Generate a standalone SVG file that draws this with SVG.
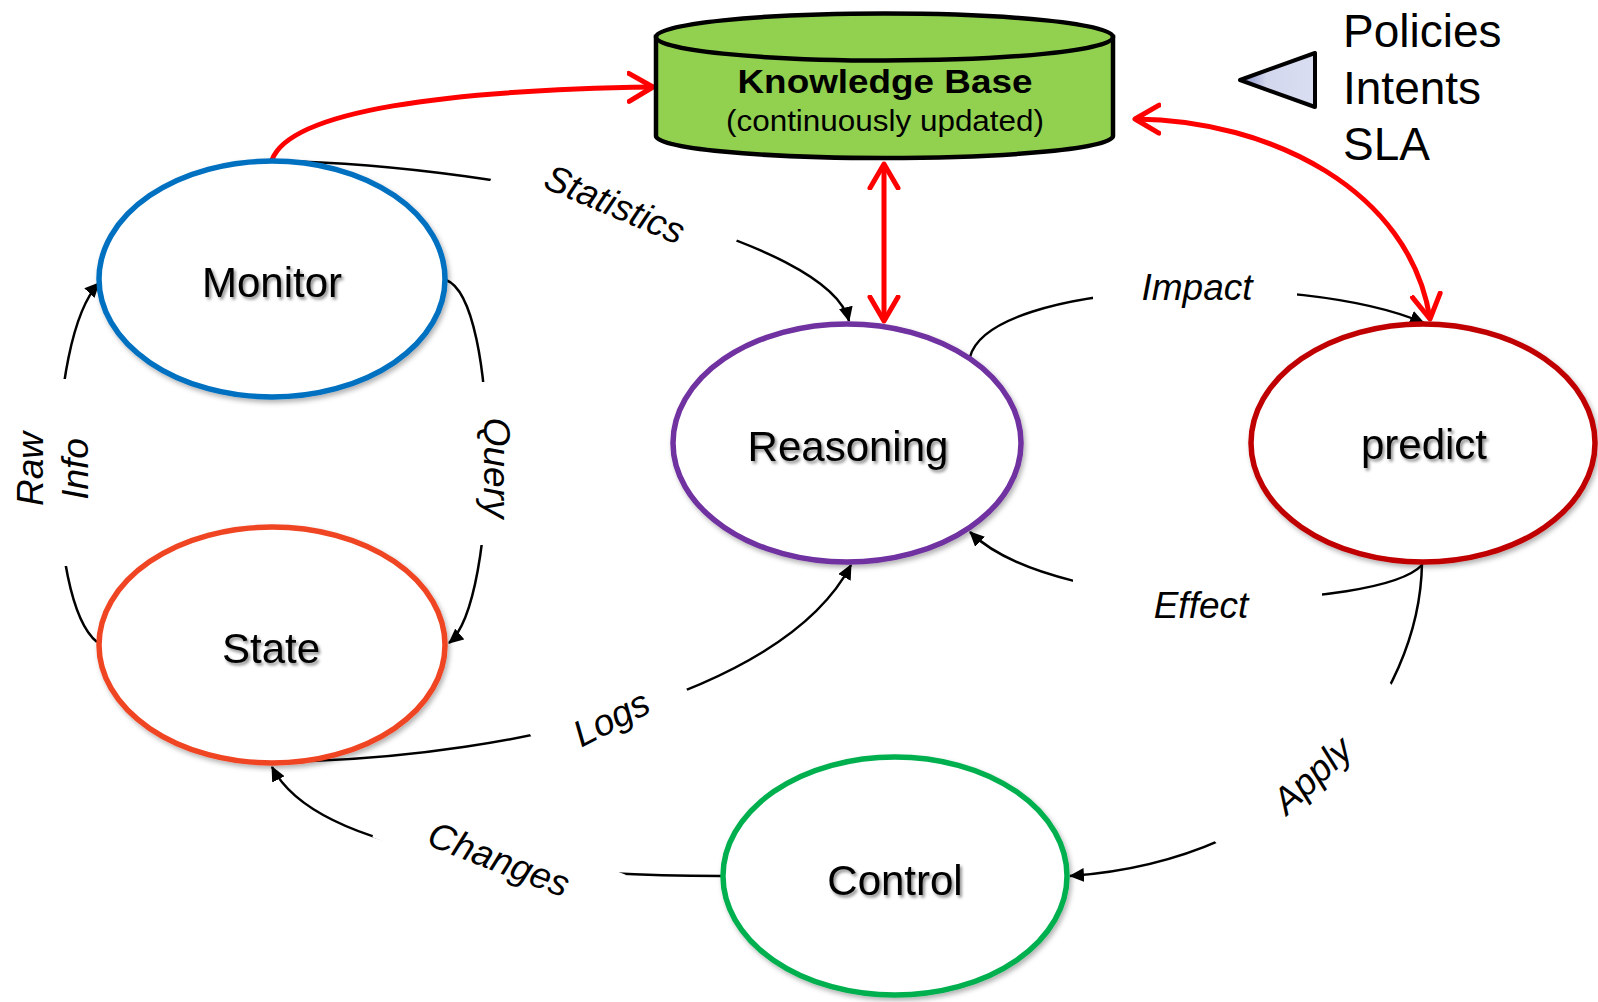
<svg xmlns="http://www.w3.org/2000/svg" width="1598" height="1002" viewBox="0 0 1598 1002">
<style>
.node{fill:#fff;stroke-width:5.5}
.nt{font-family:"Liberation Sans",Arial,sans-serif;font-size:42px;fill:#000;text-anchor:middle}
.lbl{font-family:"Liberation Sans",Arial,sans-serif;font-size:37px;font-style:italic;fill:#000;text-anchor:middle}
.c{fill:none;stroke:#000;stroke-width:2.5}
.r{fill:none;stroke:#ff0000;stroke-width:5}
.gap{fill:#fff}
</style>
<defs>
<filter id="ts" x="-20%" y="-40%" width="140%" height="180%">
<feDropShadow dx="2" dy="2.5" stdDeviation="1.5" flood-color="#000" flood-opacity="0.45"/>
</filter>
<filter id="es" x="-10%" y="-10%" width="125%" height="125%">
<feDropShadow dx="2" dy="3" stdDeviation="2.5" flood-color="#000" flood-opacity="0.3"/>
</filter>
<marker id="ah" markerUnits="userSpaceOnUse" markerWidth="16" markerHeight="14" refX="14" refY="7" orient="auto">
<path d="M0,0 L15,7 L0,14 Z" fill="#000"/>
</marker>
<marker id="rh" markerUnits="userSpaceOnUse" markerWidth="30" markerHeight="34" refX="26" refY="17" orient="auto-start-reverse">
<path d="M2,3 L26,17 L2,31" fill="none" stroke="#ff0000" stroke-width="5" stroke-linecap="round" stroke-linejoin="round"/>
</marker>
<linearGradient id="tg" x1="0" y1="0" x2="1" y2="0">
<stop offset="0" stop-color="#7f8cc8"/>
<stop offset="0.35" stop-color="#d3d7ee"/>
<stop offset="1" stop-color="#dadef1"/>
</linearGradient>
</defs>

<g id="connectors">
<path class="c" d="M275,161 C520,165 830,240 849,321" marker-end="url(#ah)"/>
<path class="c" d="M97,642 C45,600 45,340 99,283" marker-end="url(#ah)"/>
<path class="c" d="M446,280 C500,300 500,600 449,643" marker-end="url(#ah)"/>
<path class="c" d="M311,761 C500,755 780,700 851,565" marker-end="url(#ah)"/>
<path class="c" d="M721,876 C560,876 320,860 272,767" marker-end="url(#ah)"/>
<path class="c" d="M1422,563 C1420,700 1300,860 1070,876" marker-end="url(#ah)"/>
<path class="c" d="M1422,565 C1380,610 1060,620 970,532" marker-end="url(#ah)"/>
<path class="c" d="M970,357 C990,280 1300,270 1424,323" marker-end="url(#ah)"/>

<rect class="gap" x="-125" y="-30" width="250" height="60" transform="translate(615,207) rotate(23)"/>
<rect class="gap" x="5" y="379" width="93" height="187"/>
<rect class="gap" x="465" y="382" width="60" height="163"/>
<rect class="gap" x="-80" y="-28" width="160" height="56" transform="translate(611,717) rotate(-27)"/>
<rect class="gap" x="-125" y="-28" width="250" height="56" transform="translate(499,856) rotate(21)"/>
<rect class="gap" x="-118" y="-30" width="236" height="60" transform="translate(1305,765) rotate(-43)"/>
<rect class="gap" x="1073" y="575" width="249" height="50"/>
<rect class="gap" x="1093" y="262" width="204" height="50"/>

<text class="lbl" transform="translate(615,204) rotate(23)" y="13">Statistics</text>
<text class="lbl" transform="translate(30,469) rotate(-90)" y="13">Raw</text>
<text class="lbl" transform="translate(75,469) rotate(-90)" y="13">Info</text>
<text class="lbl" transform="translate(497,468) rotate(90)" y="13">Query</text>
<text class="lbl" transform="translate(611,718) rotate(-27)" y="13">Logs</text>
<text class="lbl" transform="translate(499,859) rotate(21)" y="13">Changes</text>
<text class="lbl" transform="translate(1312,775) rotate(-43)" y="13">Apply</text>
<text class="lbl" x="1201" y="618">Effect</text>
<text class="lbl" x="1197" y="300">Impact</text>

<path class="r" d="M272,160 C290,110 450,90 653,87" marker-end="url(#rh)"/>
<path class="r" d="M884,164 L884,321" marker-start="url(#rh)" marker-end="url(#rh)"/>
<path class="r" d="M1135,119 C1270,120 1410,190 1430,319" marker-start="url(#rh)" marker-end="url(#rh)"/>
</g>

<g id="kb">
<path d="M656,37 V136 A228.5,22 0 0 0 1113,136 V37 Z" fill="#92d050" stroke="#000" stroke-width="4.5"/>
<ellipse cx="884.5" cy="37" rx="228.5" ry="23.5" fill="#92d050" stroke="#000" stroke-width="4.5"/>
<text x="885" y="93" font-family="'Liberation Sans',Arial,sans-serif" font-size="34" font-weight="bold" text-anchor="middle" textLength="295" lengthAdjust="spacingAndGlyphs">Knowledge Base</text>
<text x="885" y="131" font-family="'Liberation Sans',Arial,sans-serif" font-size="30" text-anchor="middle" textLength="318" lengthAdjust="spacingAndGlyphs">(continuously updated)</text>
</g>

<g id="policies">
<path d="M1240,80 L1315,53 L1315,107 Z" fill="url(#tg)" stroke="#000" stroke-width="4" stroke-linejoin="round"/>
<text font-family="'Liberation Sans',Arial,sans-serif" font-size="46" fill="#000">
<tspan x="1343" y="47">Policies</tspan>
<tspan x="1343" y="104">Intents</tspan>
<tspan x="1343" y="160">SLA</tspan>
</text>
</g>

<g id="monitor">
<ellipse class="node" cx="272" cy="279" rx="173" ry="118" stroke="#0070c0" filter="url(#es)"/>
<text class="nt" x="272" y="297" filter="url(#ts)">Monitor</text>
</g>

<g id="state">
<ellipse class="node" cx="272" cy="645" rx="173" ry="118" stroke="#f04423" filter="url(#es)"/>
<text class="nt" x="271" y="663" filter="url(#ts)">State</text>
</g>

<g id="reasoning">
<ellipse class="node" cx="847" cy="443" rx="174" ry="119" stroke="#7030a0" filter="url(#es)"/>
<text class="nt" x="848" y="461" filter="url(#ts)">Reasoning</text>
</g>

<g id="predict">
<ellipse class="node" cx="1423" cy="443" rx="172" ry="119" stroke="#c00000" filter="url(#es)"/>
<text class="nt" x="1424" y="459" filter="url(#ts)">predict</text>
</g>

<g id="control">
<ellipse class="node" cx="895" cy="876" rx="172" ry="119" stroke="#00b050" filter="url(#es)"/>
<text class="nt" x="895" y="895" filter="url(#ts)">Control</text>
</g>
</svg>
